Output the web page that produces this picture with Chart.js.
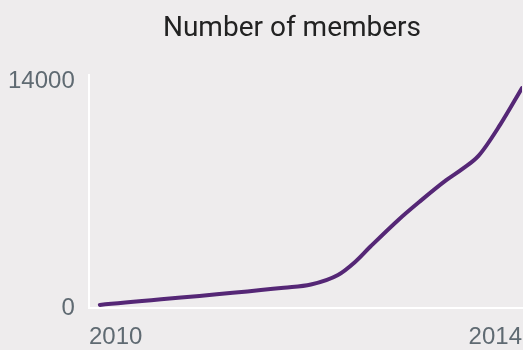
<!DOCTYPE html>
<html>
<head>
<meta charset="utf-8">
<script src="https://cdn.jsdelivr.net/npm/chart.js@4"></script>
<style>
  html, body { margin: 0; padding: 0; background: #eeeced; }
  #wrap { width: 523px; height: 350px; }
</style>
</head>
<body>
<div id="wrap"><canvas id="chartCanvas" width="523" height="350"></canvas></div>
<script>
// valeurs
const annees = [2010.1, 2011.8, 2012.05, 2012.3, 2012.45, 2012.6, 2012.85, 2013.05, 2013.3, 2013.45, 2013.6, 2013.8, 2014.0];
const membres = [190, 1255, 1450, 2040, 2800, 3800, 5400, 6550, 7900, 8600, 9420, 11350, 13600];
const ticksX = [2010, 2014];
const ticksY = [0, 14000];
const titre = 'Number of members';

const points = annees.map((a, i) => ({ x: a, y: membres[i] }));

const ctx = document.getElementById('chartCanvas').getContext('2d');
new Chart(ctx, {
    type: 'line',
    data: {
        datasets: [{
            data: points,
            borderColor: '#552776',
            borderWidth: 4,
            pointRadius: 0,
            borderCapStyle: 'round',
            cubicInterpolationMode: 'monotone',
            fill: false
        }]
    },
    options: {
        responsive: false,
        animation: false,
        // padding gauche pour decaler le titre comme sur l'image
        layout: { autoPadding: false, padding: { left: 62, right: 1 } },
        plugins: {
            legend: { display: false },
            tooltip: { enabled: false },
            title: {
                display: true,
                text: titre,
                color: '#222222',
                font: { family: 'Roboto', size: 28, weight: 'normal' },
                padding: { top: 12, bottom: 29 }
            }
        },
        scales: {
            x: {
                type: 'linear',
                min: 2010,
                max: 2014,
                afterBuildTicks: s => { s.ticks = ticksX.map(v => ({ value: v })); },
                afterFit: s => {
                    s.height = 42;
                    s.paddingLeft = 0; // sinon le padding des ticks retrecit le graphique
                    s.paddingRight = 0;
                },
                grid: { display: false, drawTicks: false },
                border: { display: true, color: '#ffffff', width: 2 },
                ticks: {
                    align: 'inner',
                    padding: 15,
                    color: '#5f6a72',
                    font: { family: 'Liberation Sans', size: 24 },
                    callback: v => String(v)
                }
            },
            y: {
                min: 0,
                max: 14430,
                afterBuildTicks: s => { s.ticks = ticksY.map(v => ({ value: v })); },
                afterFit: s => { s.width = 27; },
                grid: { display: false, drawTicks: false },
                border: { display: true, color: '#ffffff', width: 2 },
                ticks: {
                    // mirror pour eviter que les labels soient coupes par la boite de l'axe
                    mirror: true,
                    crossAlign: 'far',
                    padding: -81,
                    color: '#5f6a72',
                    font: { family: 'Liberation Sans', size: 24 },
                    callback: v => String(v)
                }
            }
        }
    }
});
</script>
</body>
</html>
